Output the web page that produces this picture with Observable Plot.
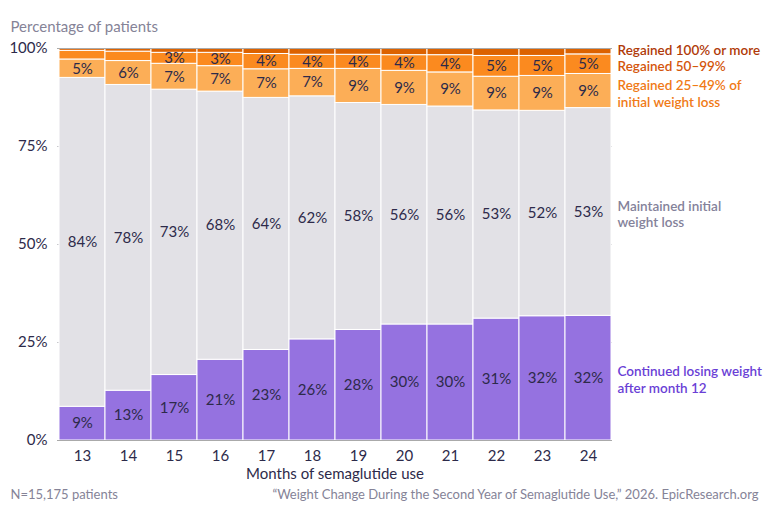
<!DOCTYPE html>
<html>
<head>
<meta charset="utf-8">
<script src="https://cdn.jsdelivr.net/npm/d3@7"></script>
<script src="https://cdn.jsdelivr.net/npm/@observablehq/plot@0.6"></script>
<style>
  html, body { margin: 0; padding: 0; background: #fff; }
  #chart { width: 768px; height: 512px; }
</style>
</head>
<body>
<div id="chart"></div>
<script>
const months = [13, 14, 15, 16, 17, 18, 19, 20, 21, 22, 23, 24];
const continued   = [8.6, 12.7, 16.7, 20.6, 23.1, 25.8, 28.2, 29.6, 29.6, 31.1, 31.7, 31.8];
const maintained  = [83.9, 78.0, 72.8, 68.4, 64.3, 62.0, 57.9, 56.0, 55.6, 53.1, 52.4, 53.0];
const regained25  = [4.7, 6.1, 6.6, 6.5, 7.3, 7.0, 8.7, 8.7, 8.7, 8.6, 8.9, 8.7];
const regained50  = [2.2, 2.4, 2.8, 3.4, 3.9, 3.6, 3.6, 4.0, 4.4, 5.3, 5.1, 5.0];
const regained100 = [0.6, 0.8, 1.1, 1.1, 1.4, 1.6, 1.6, 1.7, 1.7, 1.9, 1.9, 1.5];

const categories = ["Continued", "Maintained", "Regained25", "Regained50", "Regained100"];
const seriesValues = [continued, maintained, regained25, regained50, regained100];
const barColors = ["#9572e0", "#e2e1e6", "#fcae57", "#fb8a1f", "#dc6200"];
const legendLabels = [
  "Continued losing weight\nafter month 12",
  "Maintained initial\nweight loss",
  "Regained 25–49% of\ninitial weight loss",
  "Regained 50–99%",
  "Regained 100% or more"
];
const legendColors = ["#6a3fd6", "#84829a", "#f07a16", "#d4560c", "#b03a08"];
const yTicks = [0, 25, 50, 75, 100];

const rows = [];
months.forEach((m, i) => {
  categories.forEach((c, j) => rows.push({month: m, cat: c, value: seriesValues[j][i]}));
});

// legend anchored at the middle of each segment of the last month
const lastIdx = months.length - 1;
let acc = 0;
const legendRows = categories.map((c, j) => {
  const v = seriesValues[j][lastIdx];
  const mid = acc + v / 2;
  acc += v;
  return {cat: c, y: mid, label: legendLabels[j], color: legendColors[j]};
});
const legendDy = [1, 2, 2, 2, -2];

const ink = "#2d2a4a";
const muted = "#858397";
const marks = [
  Plot.ruleY(yTicks.filter(t => t > 0 && t < 100), {stroke: "#c8c8cc", strokeWidth: 1}),
  Plot.barY(rows, {
    x: "month", y: "value", fill: "cat", z: "cat", order: categories,
    stroke: "#fff", strokeWidth: 1
  }),
  Plot.ruleY([0, 100], {stroke: "#aaaaaa", strokeWidth: 1.2}),
  Plot.text(rows.filter(d => d.cat !== "Regained100" && Math.round(d.value) >= 3),
    Plot.stackY({
      x: "month", y: "value", z: "cat", order: categories,
      text: d => Math.round(d.value) + "%",
      fill: ink, fontSize: 15
    })),
  Plot.axisY({ticks: yTicks, tickFormat: d => d + "%", tickSize: 0, tickPadding: 10, label: null, fontSize: 15}),
  Plot.axisX({tickSize: 0, tickPadding: 10, label: "Months of semaglutide use", labelAnchor: "center", labelArrow: "none", labelOffset: 38, fontSize: 15}),
  ...legendRows.map((r, j) => Plot.text([r], {
    y: "y", text: "label", frameAnchor: "right", dx: 5, dy: legendDy[j],
    textAnchor: "start", fill: r.color, fontSize: 13.5, fontWeight: 600, lineHeight: 1.22
  })),
  Plot.text(["Percentage of patients"], {frameAnchor: "top-left", lineAnchor: "middle", dx: -47, dy: -21, textAnchor: "start", fill: muted, fontSize: 15}),
  Plot.text(["N=15,175 patients"], {frameAnchor: "bottom-left", lineAnchor: "middle", dx: -47, dy: 54, textAnchor: "start", fill: muted, fontSize: 13}),
  Plot.text(["“Weight Change During the Second Year of Semaglutide Use,” 2026. EpicResearch.org"], {frameAnchor: "bottom-right", lineAnchor: "middle", dx: 146, dy: 54, textAnchor: "end", fill: muted, fontSize: 13})
];

const chart = Plot.plot({
  width: 768,
  height: 512,
  marginTop: 48,
  marginBottom: 72,
  marginLeft: 57,
  marginRight: 156,
  style: {fontFamily: "Lato, 'Open Sans', sans-serif", fontSize: "15px", color: ink, background: "#fff", overflow: "visible"},
  x: {type: "band", domain: months, range: [59, 611], padding: 0, label: null},
  y: {domain: [0, 100], label: null},
  color: {domain: categories, range: barColors},
  marks
});
document.getElementById("chart").append(chart);
</script>
</body>
</html>
